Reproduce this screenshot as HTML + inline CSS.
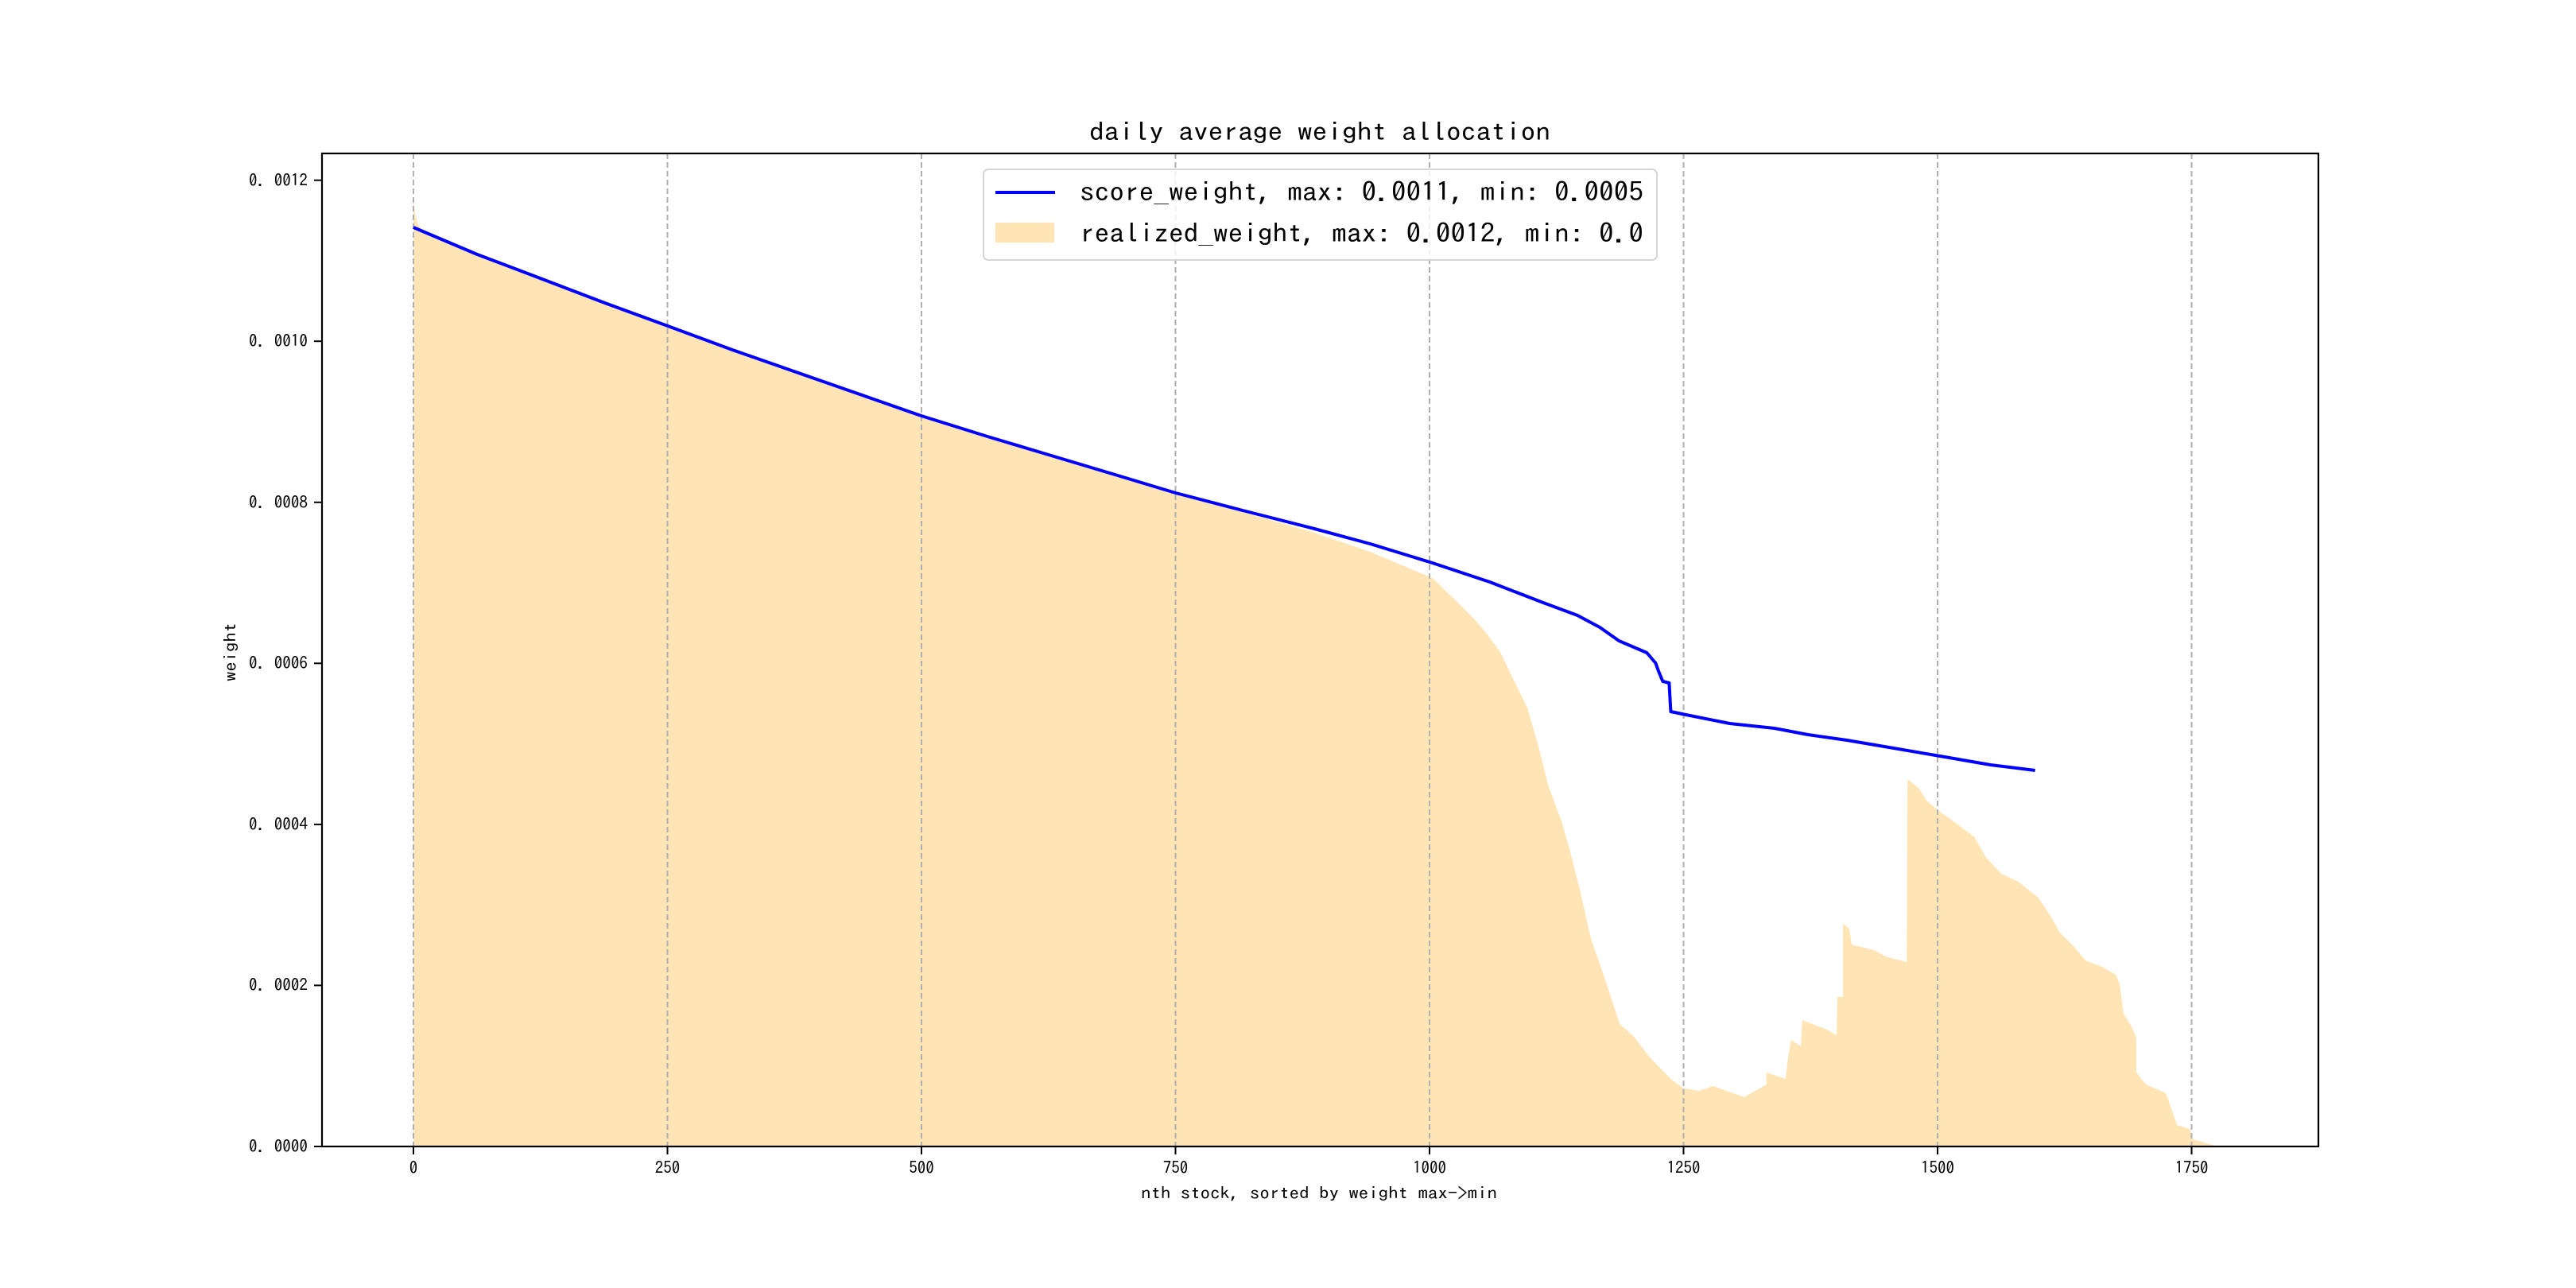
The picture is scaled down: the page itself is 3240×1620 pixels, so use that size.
<!DOCTYPE html>
<html><head><meta charset="utf-8"><style>
html,body{margin:0;padding:0;background:#fff;}
svg{display:block;}
text{font-family:"IPAGothic","WenQuanYi Zen Hei",sans-serif;fill:#000;}
</style></head><body>
<svg width="3240" height="1620" viewBox="0 0 3240 1620" xmlns="http://www.w3.org/2000/svg">
<rect width="3240" height="1620" fill="#fff"/>
<g transform="translate(520,0) scale(1.0028,1) translate(-520,0)">
<polygon fill="#FFE4B5" points="520,1442 520,253 522,268 525,280 530,289 560,303 600,320 679,349 760,380 839,410 1000,468 1157,523 1320,573 1476,620 1650,670 1720,694 1798,727 1827,755 1850,778 1867,798 1883,820 1897,849 1917,890 1933,946 1943,987 1960,1033 1970,1068 1983,1119 1997,1181 2013,1227 2033,1288 2050,1303 2070,1329 2097,1357 2113,1369 2133,1372 2150,1366 2189,1380 2217,1364 2217,1349 2241,1357 2244,1331 2248,1308 2260,1316 2262,1283 2293,1295 2305,1302 2306,1254 2313,1254 2313,1162 2321,1168 2324,1188 2352,1195 2366,1203 2393,1210 2394,980 2408,991 2418,1007 2432,1019 2457,1037 2478,1053 2492,1078 2512,1099 2533,1109 2558,1129 2572,1150 2585,1173 2603,1191 2617,1208 2638,1216 2655,1226 2660,1237 2665,1275 2676,1293 2681,1306 2681,1349 2693,1364 2718,1375 2725,1395 2732,1415 2748,1420 2752,1433 2780,1441 2790,1442"/>
</g>
<g stroke="#b0b0b0" stroke-width="2" stroke-dasharray="7,4">
<line x1="520" y1="193" x2="520" y2="1442"/>
<line x1="839.5" y1="193" x2="839.5" y2="1442"/>
<line x1="1159" y1="193" x2="1159" y2="1442"/>
<line x1="1478.5" y1="193" x2="1478.5" y2="1442"/>
<line x1="1798" y1="193" x2="1798" y2="1442"/>
<line x1="2117.5" y1="193" x2="2117.5" y2="1442"/>
<line x1="2437" y1="193" x2="2437" y2="1442"/>
<line x1="2756.5" y1="193" x2="2756.5" y2="1442"/>
</g>
<g transform="translate(520,0) scale(1.0028,1) translate(-520,0)">
<polyline fill="none" stroke="#0000ff" stroke-width="4" stroke-linejoin="round" points="520,286 560,303 600,320 679,350 760,381 839,410 920,440 1000,468 1080,496 1157,523 1240,549 1320,573 1400,597 1476,620 1560,642 1650,665 1720,684 1798,708 1870,732 1937,758 1980,774 2008,789 2032,806 2067,821 2078,834 2082,845 2087,857 2095,859 2097,895 2116,899 2171,910 2227,916 2269,924 2318,931 2359,938 2429,950 2498,962 2554,969"/>
</g>
<rect x="405" y="193" width="2511" height="1249" fill="none" stroke="#000" stroke-width="2.2"/>
<g stroke="#000" stroke-width="2">
<line x1="395" y1="1442" x2="405" y2="1442"/>
<line x1="395" y1="1239.4" x2="405" y2="1239.4"/>
<line x1="395" y1="1036.9" x2="405" y2="1036.9"/>
<line x1="395" y1="834.3" x2="405" y2="834.3"/>
<line x1="395" y1="631.8" x2="405" y2="631.8"/>
<line x1="395" y1="429.2" x2="405" y2="429.2"/>
<line x1="395" y1="226.7" x2="405" y2="226.7"/>
<line x1="520" y1="1442" x2="520" y2="1452"/>
<line x1="839.5" y1="1442" x2="839.5" y2="1452"/>
<line x1="1159" y1="1442" x2="1159" y2="1452"/>
<line x1="1478.5" y1="1442" x2="1478.5" y2="1452"/>
<line x1="1798" y1="1442" x2="1798" y2="1452"/>
<line x1="2117.5" y1="1442" x2="2117.5" y2="1452"/>
<line x1="2437" y1="1442" x2="2437" y2="1452"/>
<line x1="2756.5" y1="1442" x2="2756.5" y2="1452"/>
</g>
<g font-size="21" text-anchor="end">
<text x="387" y="1449" textLength="74" lengthAdjust="spacingAndGlyphs">0. 0000</text>
<text x="387" y="1246" textLength="74" lengthAdjust="spacingAndGlyphs">0. 0002</text>
<text x="387" y="1044" textLength="74" lengthAdjust="spacingAndGlyphs">0. 0004</text>
<text x="387" y="841" textLength="74" lengthAdjust="spacingAndGlyphs">0. 0006</text>
<text x="387" y="639" textLength="74" lengthAdjust="spacingAndGlyphs">0. 0008</text>
<text x="387" y="436" textLength="74" lengthAdjust="spacingAndGlyphs">0. 0010</text>
<text x="387" y="234" textLength="74" lengthAdjust="spacingAndGlyphs">0. 0012</text>
</g>
<g font-size="21" text-anchor="middle">
<text x="520" y="1476">0</text>
<text x="839.5" y="1476">250</text>
<text x="1159" y="1476">500</text>
<text x="1478.5" y="1476">750</text>
<text x="1798" y="1476">1000</text>
<text x="2117.5" y="1476">1250</text>
<text x="2437" y="1476">1500</text>
<text x="2756.5" y="1476">1750</text>
</g>
<text x="1435" y="1508" font-size="21" textLength="448" lengthAdjust="spacingAndGlyphs">nth stock, sorted by weight max-&gt;min</text>
<text transform="translate(297,857) rotate(-90)" font-size="21" textLength="74" lengthAdjust="spacingAndGlyphs">weight</text>
<text x="1370" y="177" font-size="32" textLength="580" lengthAdjust="spacingAndGlyphs">daily average weight allocation</text>
<rect x="1237" y="213" width="847" height="114" rx="6" fill="#fff" fill-opacity="0.8" stroke="#d5d5d5" stroke-width="2"/>
<line x1="1252" y1="242" x2="1327" y2="242" stroke="#0000ff" stroke-width="4"/>
<rect x="1252" y="280" width="74" height="25" fill="#FFE4B5"/>
<text x="1358" y="253" font-size="33" textLength="709" lengthAdjust="spacingAndGlyphs">score_weight, max: 0.0011, min: 0.0005</text>
<text x="1358" y="305" font-size="33" textLength="709" lengthAdjust="spacingAndGlyphs">realized_weight, max: 0.0012, min: 0.0</text>
</svg>
</body></html>
